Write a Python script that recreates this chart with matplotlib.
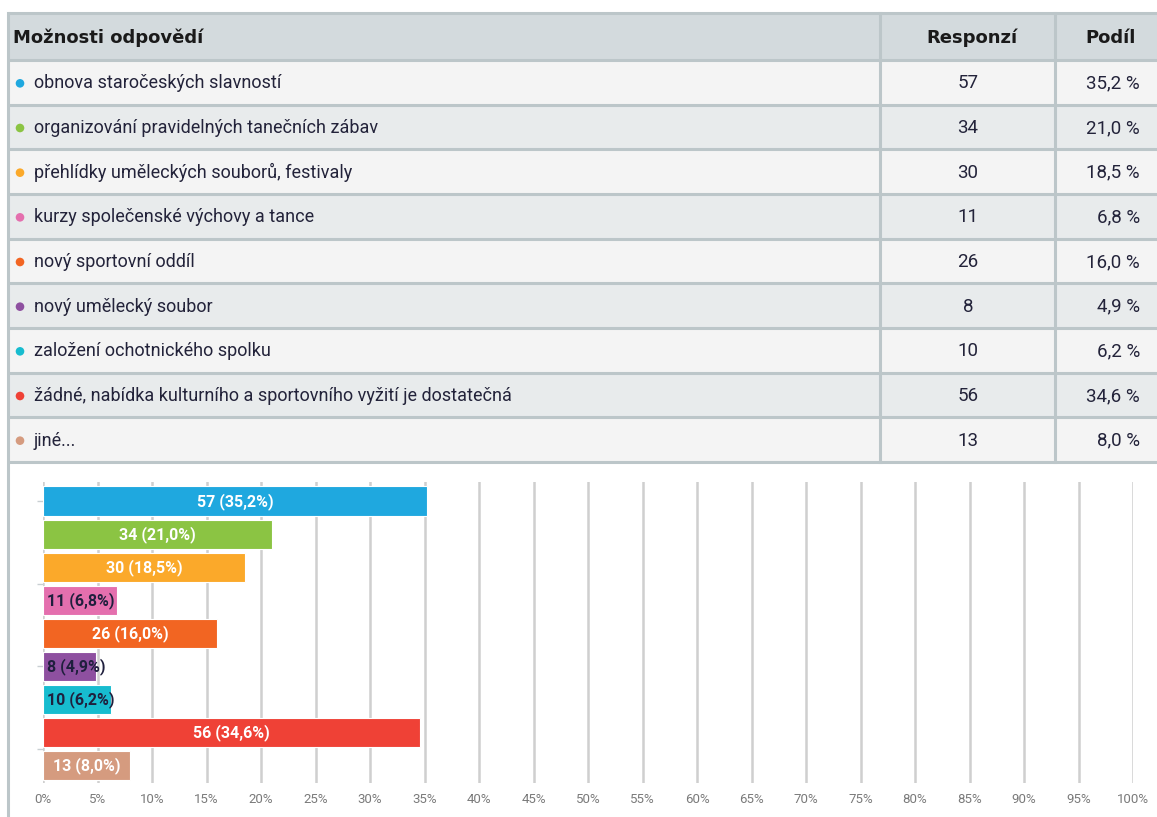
import matplotlib
matplotlib.use("Agg")
import matplotlib.pyplot as plt
from matplotlib.patches import Rectangle, Circle
import numpy as np

# ---------------- data ----------------
header = ["Možnosti odpovědí", "Responzí", "Podíl"]
options = [
    "obnova staročeských slavností",
    "organizování pravidelných tanečních zábav",
    "přehlídky uměleckých souborů, festivaly",
    "kurzy společenské výchovy a tance",
    "nový sportovní oddíl",
    "nový umělecký soubor",
    "založení ochotnického spolku",
    "žádné, nabídka kulturního a sportovního vyžití je dostatečná",
    "jiné...",
]
counts = [57, 34, 30, 11, 26, 8, 10, 56, 13]
shares = [35.2, 21.0, 18.5, 6.8, 16.0, 4.9, 6.2, 34.6, 8.0]
colors = ["#1fa8df", "#8bc443", "#fba92a", "#e46fae", "#f26522",
          "#8e50a0", "#17bccf", "#ef4136", "#d59b7f"]
xticks = list(range(0, 101, 5))

FONT = ["Liberation Sans Narrow", "Roboto", "DejaVu Sans"]
plt.rcParams["font.family"] = FONT

W, H = 1157, 817
fig = plt.figure(figsize=(W / 100, H / 100), dpi=100)

# ---------------- table (pixel coordinates) ----------------
tab = fig.add_axes([0, 0, 1, 1])
tab.set_xlim(0, W)
tab.set_ylim(H, 0)
tab.axis("off")

border = "#bcc6c9"
head_fill = "#d3dadd"
row_fills = ["#f4f4f4", "#e8ebec"]
x0, c1, c2, x3 = 8, 880, 1055, 1170
top, head_h = 13, 47
row_h = (462 - 60) / len(options)
txt_col = "#23233a"

tab.add_patch(Rectangle((x0, top), x3 - x0, head_h, facecolor=head_fill,
                        edgecolor="none", zorder=1))
for i in range(len(options)):
    y = top + head_h + i * row_h
    tab.add_patch(Rectangle((x0, y), x3 - x0, row_h,
                            facecolor=row_fills[i % 2], edgecolor="none", zorder=1))
for k in range(len(options) + 2):
    y = top if k == 0 else top + head_h + (k - 1) * row_h
    tab.plot([x0, x3], [y, y], color=border, lw=2.2, zorder=2,
             solid_capstyle="butt")
bottom_tab = top + head_h + len(options) * row_h
for xv in (c1, c2):
    tab.plot([xv, xv], [top, bottom_tab], color=border, lw=2.2, zorder=2)
tab.plot([x0, x0], [top, H], color=border, lw=2.2, zorder=2)

hy = top + head_h / 2 + 1
hfont = dict(fontsize=13, fontweight="bold", color="#1a1a1a", va="center",
             zorder=3, family=["DejaVu Sans"])
tab.text(x0 + 5, hy, header[0], ha="left", **hfont)
tab.text((c1 + c2) / 2 + 4, hy, header[1], ha="center", **hfont)
tab.text(1111, hy, header[2], ha="center", **hfont)

for i, (lab, cnt, sh, col) in enumerate(zip(options, counts, shares, colors)):
    yc = top + head_h + (i + 0.5) * row_h + 1
    tab.add_patch(Circle((20, yc), 4.3, facecolor=col, edgecolor="none", zorder=3))
    tab.text(34, yc, lab, fontsize=13, color=txt_col, va="center",
             ha="left", zorder=3)
    tab.text(968, yc, f"{cnt}", fontsize=13.5, color=txt_col, va="center",
             ha="center", zorder=3)
    tab.text(1140, yc, f"{sh:.1f}".replace(".", ",") + " %", fontsize=13.5,
             color=txt_col, va="center", ha="right", zorder=3)

# ---------------- bar chart ----------------
ax_left, ax_right, ax_top, ax_bot = 43, 1133, 482, 783
ax = fig.add_axes([ax_left / W, (H - ax_bot) / H,
                   (ax_right - ax_left) / W, (ax_bot - ax_top) / H])
ax.set_facecolor("none")
n = len(options)
ypos = np.arange(n)
ax.barh(ypos, shares, height=0.89, color=colors, edgecolor="white",
        linewidth=0.8, zorder=3)
ax.set_xlim(0, 100)
ax.set_ylim(n - 1 + 0.53, -0.58)
ax.set_xticks(xticks)
ax.set_xticklabels([f"{t}%" for t in xticks], fontsize=9.5, color="#7a7a7a")
ax.set_yticks(np.arange(0, n, 2.5))
ax.set_yticklabels([])
ax.tick_params(axis="x", length=0, pad=7)
ax.tick_params(axis="y", length=4, color="#c8cfd2", width=1)
ax.grid(axis="x", color="#cfcfcf", lw=1.8, zorder=0)
for s in ax.spines.values():
    s.set_visible(False)

for i, (cnt, sh) in enumerate(zip(counts, shares)):
    lab = f"{cnt} (" + f"{sh:.1f}".replace(".", ",") + "%)"
    if sh >= 7.5:
        ax.text(sh / 2, i, lab, color="white", fontsize=11.5, fontweight="bold",
                ha="center", va="center", zorder=4)
    else:
        ax.text(0.35, i, lab, color="#1f1f3d", fontsize=11.5, fontweight="bold",
                ha="left", va="center", zorder=4)

fig.savefig("out.png", dpi=100)
